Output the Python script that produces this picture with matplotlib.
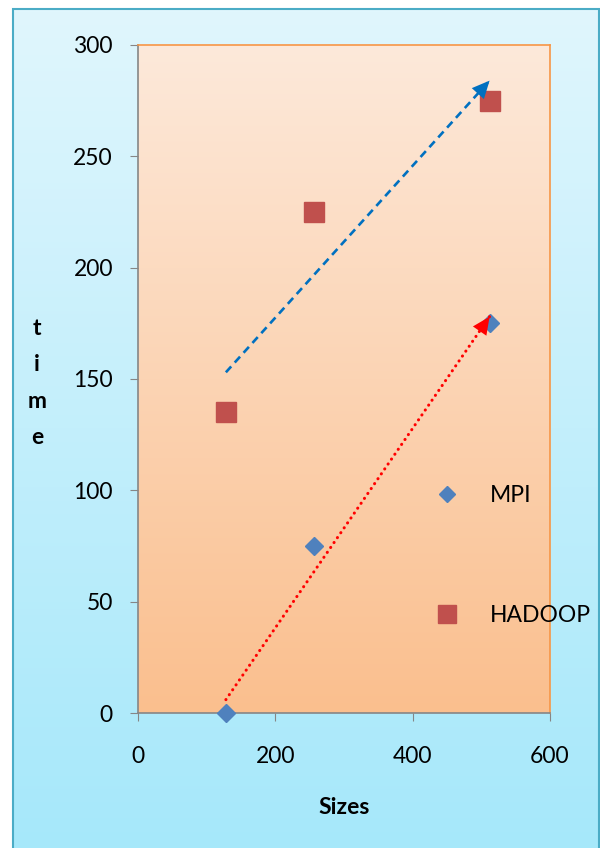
import numpy as np
import matplotlib.pyplot as plt
from matplotlib.patches import Rectangle

# data
sizes = [128, 256, 512]
mpi_time = [0, 75, 175]
hadoop_time = [135, 225, 275]

# hand drawn trend arrows (start, tip)
hadoop_arrow_x = [128, 512]
hadoop_arrow_y = [153, 284]
mpi_arrow_x = [128, 512]
mpi_arrow_y = [6, 178]

x_ticks = [0, 200, 400, 600]
y_ticks = [0, 50, 100, 150, 200, 250, 300]

plt.rcParams['font.family'] = ['Lato', 'DejaVu Sans']

fig = plt.figure(figsize=(6, 8.48), dpi=100)

# light blue chart background with a teal border
bg = fig.add_axes([0, 0, 1, 1], zorder=-10)
bg.set_axis_off()
grad = np.linspace(0, 1, 256).reshape(-1, 1)
top_c = np.array([224, 246, 253]) / 255
bot_c = np.array([166, 232, 250]) / 255
img = top_c + (bot_c - top_c) * grad[:, :, None] * np.ones((1, 1, 3))
bg.imshow(img.reshape(256, 1, 3), extent=[13 / 600, 1.0, 0, 1 - 9 / 848],
          aspect='auto', origin='upper')
bg.set_xlim(0, 1)
bg.set_ylim(0, 1)
bg.add_patch(Rectangle((13 / 600, -0.01), 1 - 13 / 600 - 1.5 / 600, 1.01 - 9 / 848,
                       fill=False, edgecolor='#4bacc6', linewidth=1.5))

ax = fig.add_axes([138 / 600, 1 - 713 / 848, 412 / 600, 668 / 848])

# peach gradient plot area
p_top = np.array([253, 233, 218]) / 255
p_bot = np.array([250, 191, 142]) / 255
pimg = p_top + (p_bot - p_top) * grad[:, :, None] * np.ones((1, 1, 3))
ax.imshow(pimg.reshape(256, 1, 3), extent=[0, 600, 0, 300], aspect='auto',
          origin='upper', zorder=0)

ax.plot(sizes, mpi_time, linestyle='none', marker='D', markersize=9.6,
        color='#4f81bd', label='MPI', zorder=3, clip_on=False)
ax.plot(sizes, hadoop_time, linestyle='none', marker='s', markersize=14.8,
        color='#c0504d', label='HADOOP', zorder=3, clip_on=False)

head = '-|>,head_length=0.9,head_width=0.42'
ax.plot(hadoop_arrow_x, hadoop_arrow_y, color='#0070c0', lw=1.9,
        linestyle=(0, (3, 2)), zorder=4)
ax.annotate('', xy=(hadoop_arrow_x[1], hadoop_arrow_y[1]),
            xytext=(hadoop_arrow_x[0], hadoop_arrow_y[0]),
            arrowprops=dict(arrowstyle=head, color='#0070c0', lw=0,
                            mutation_scale=14, shrinkA=0, shrinkB=0), zorder=4)
ax.plot(mpi_arrow_x, mpi_arrow_y, color='#ff0000', lw=2.2,
        linestyle=(0, (0.05, 1.9)), dash_capstyle='round', zorder=4)
ax.annotate('', xy=(mpi_arrow_x[1], mpi_arrow_y[1]),
            xytext=(mpi_arrow_x[0], mpi_arrow_y[0]),
            arrowprops=dict(arrowstyle=head, color='#ff0000', lw=0,
                            mutation_scale=14, shrinkA=0, shrinkB=0), zorder=4)

ax.set_xlim(0, 600)
ax.set_ylim(0, 300)
ax.set_xticks(x_ticks)
ax.set_yticks(y_ticks)
ax.tick_params(axis='y', length=6, color='#868686', pad=12, labelsize=16.5)
ax.tick_params(axis='x', length=6, color='#868686', pad=18, labelsize=16.5)
for s in ['left', 'bottom']:
    ax.spines[s].set_color('#868686')
    ax.spines[s].set_linewidth(1.2)
for s in ['top', 'right']:
    ax.spines[s].set_color('#f79646')
    ax.spines[s].set_linewidth(1.2)

ax.legend(loc='center left', bbox_to_anchor=(0.721, 0.236), frameon=False,
          fontsize=16.5, handlelength=1, handletextpad=1.4, labelspacing=4.3,
          borderpad=0, borderaxespad=0, markerscale=0.9)

fig.text(344 / 600, 1 - 808 / 848, 'Sizes', ha='center', va='center',
         fontsize=16.5, fontweight='bold')
fig.text(37 / 600, 1 - 383 / 848, 't\ni\nm\ne', ha='center', va='center',
         fontsize=16.5, fontweight='bold', linespacing=1.9, multialignment='center')

fig.savefig('out.png', dpi=100)
